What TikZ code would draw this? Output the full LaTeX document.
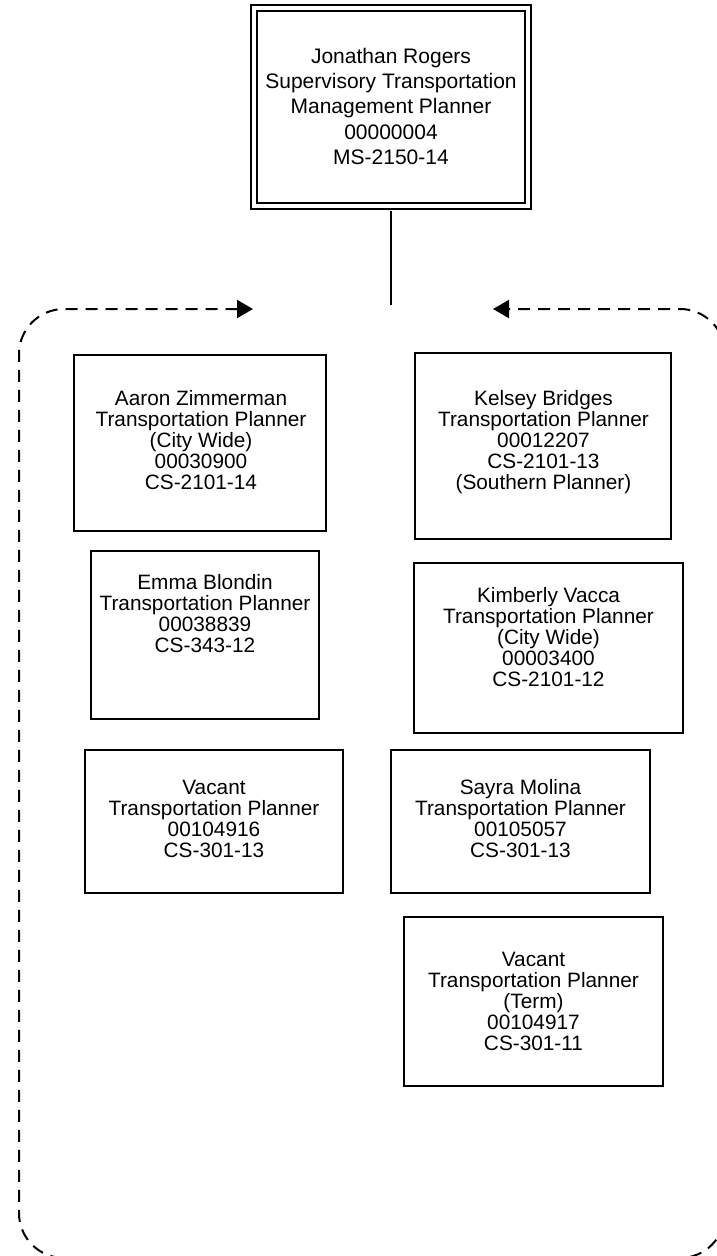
\documentclass[tikz,border=0pt]{standalone}
\usepackage{fontspec}
\setmainfont{Liberation Sans}
\usetikzlibrary{arrows.meta}
\begin{document}
\begin{tikzpicture}[x=1pt,y=-1pt,
  pbox/.style={draw, line width=2pt, inner sep=0pt},
  ptext/.style={align=center, inner sep=0pt, anchor=north, font=\fontsize{20.8pt}{21pt}\selectfont},
  toptext/.style={align=center, inner sep=0pt, anchor=north, font=\fontsize{21pt}{25.3pt}\selectfont},
  topbox/.style={draw, line width=2pt, double, double distance=4pt, inner sep=0pt},
  conn/.style={line width=1.5pt},
  loopline/.style={line width=2pt, dash pattern=on 12pt off 8pt, rounded corners=45pt,
    {Triangle[length=16pt,width=18pt]}-{Triangle[length=16pt,width=18pt]}}
]
\useasboundingbox (0,0) rectangle (717,1256);
% top box
\node[topbox, minimum width=274pt, minimum height=198pt] (top) at (391,107) {};
\node[toptext] (topT) at (391,47) {\rule{0pt}{16pt}Jonathan Rogers\\Supervisory Transportation\\Management Planner\\00000004\\MS-2150-14};
\coordinate (tee) at (391,305);
\draw[conn] ([yshift=-4pt]top.south) -- (tee);
% loop
\coordinate (la) at (253,309);
\coordinate (ra) at (493,309);
\draw[loopline] (la) -- (19,309) -- (19,1258) -- (725,1258) -- (725,309) -- (ra);
% boxes
\node[pbox, minimum width=252pt, minimum height=176pt] (aaron) at (199.5,443) {};
\node[ptext] (aaronT) at (201,389) {\rule{0pt}{16pt}Aaron Zimmerman\\Transportation Planner\\(City Wide)\\00030900\\CS-2101-14};
\node[pbox, minimum width=256pt, minimum height=186pt] (kelsey) at (543,446) {};
\node[ptext] (kelseyT) at (543.5,389) {\rule{0pt}{16pt}Kelsey Bridges\\Transportation Planner\\00012207\\CS-2101-13\\(Southern Planner)};
\node[pbox, minimum width=228pt, minimum height=168pt] (emma) at (205,635) {};
\node[ptext] (emmaT) at (205,573) {\rule{0pt}{16pt}Emma Blondin\\Transportation Planner\\00038839\\CS-343-12};
\node[pbox, minimum width=269pt, minimum height=170pt] (kim) at (548.5,648) {};
\node[ptext] (kimT) at (548.5,586) {\rule{0pt}{16pt}Kimberly Vacca\\Transportation Planner\\(City Wide)\\00003400\\CS-2101-12};
\node[pbox, minimum width=258pt, minimum height=143pt] (vac1) at (214,821.5) {};
\node[ptext] (vac1T) at (214,778) {\rule{0pt}{16pt}Vacant\\Transportation Planner\\00104916\\CS-301-13};
\node[pbox, minimum width=259pt, minimum height=143pt] (sayra) at (520.5,821.5) {};
\node[ptext] (sayraT) at (520.5,778) {\rule{0pt}{16pt}Sayra Molina\\Transportation Planner\\00105057\\CS-301-13};
\node[pbox, minimum width=259pt, minimum height=169pt] (vac2) at (533.5,1001.5) {};
\node[ptext] (vac2T) at (533.5,950) {\rule{0pt}{16pt}Vacant\\Transportation Planner\\(Term)\\00104917\\CS-301-11};
\end{tikzpicture}
\end{document}
